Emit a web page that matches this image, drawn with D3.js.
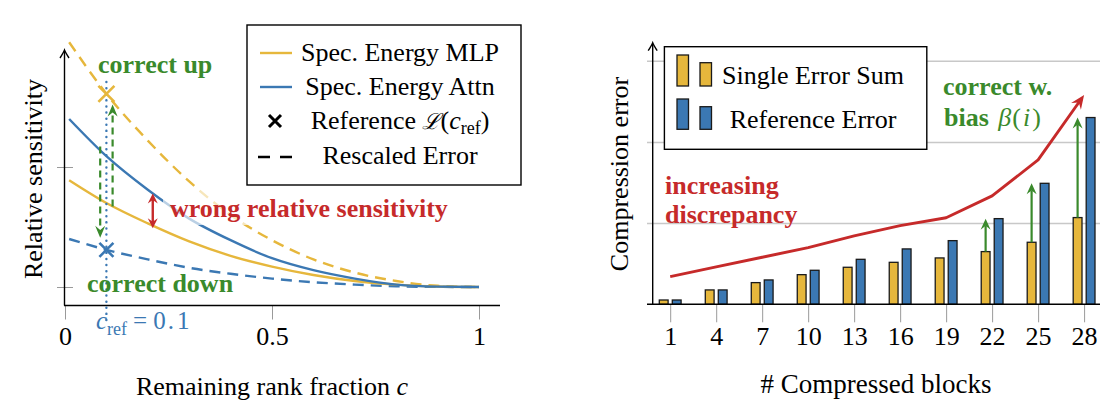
<!DOCTYPE html>
<html>
<head>
<meta charset="utf-8">
<script src="https://cdn.jsdelivr.net/npm/d3@7"></script>
<style>
  body { margin: 0; background: #fff; }
  svg { display: block; }
  text { font-family: "Liberation Serif", "Times New Roman", serif; }
</style>
</head>
<body>
<script>
"use strict";

// ---- left panel: relative sensitivity vs remaining rank fraction
const fractions = [0.01, 0.1, 0.2, 0.3, 0.4, 0.5, 0.6, 0.7, 0.8, 0.9, 1.0];
const mlpEnergy = [0.89, 0.70, 0.53, 0.38, 0.26, 0.17, 0.10, 0.05, 0.02, 0.004, 0];
const attnEnergy = [1.40, 1.09, 0.81, 0.57, 0.39, 0.24, 0.14, 0.07, 0.02, 0.003, 0];
const mlpRescaled = [2.04, 1.61, 1.22, 0.88, 0.60, 0.39, 0.23, 0.12, 0.05, 0.01, 0];
const attnRescaled = [0.40, 0.31, 0.23, 0.16, 0.11, 0.07, 0.04, 0.02, 0.006, 0.001, 0];
const cRef = 0.1;
const leftXTicks = [0, 0.5, 1];
const leftXTickLabels = ["0", "0.5", "1"];
const leftYTicks = [0, 1];

// ---- right panel: compression error vs number of compressed blocks
const blocks = [1, 4, 7, 10, 13, 16, 19, 22, 25, 28];
const singleErrorSum = [0.053, 0.177, 0.267, 0.365, 0.456, 0.517, 0.571, 0.649, 0.764, 1.068];
const referenceError = [0.053, 0.177, 0.30, 0.419, 0.554, 0.682, 0.784, 1.055, 1.49, 2.30];
const discrepancy = [0.341, 0.46, 0.579, 0.698, 0.842, 0.969, 1.066, 1.335, 1.778, 2.578];
const biasBlocks = [22, 25, 28];
const rightGrid = [1, 2, 3];

const colors = {
    yellow: "#e6b73c",
    blue: "#3b78b3",
    green: "#3a8a2c",
    red: "#c62a2a",
    grid: "#c8c8c8",
    tick: "#9a9a9a"
};

const svg = d3.select("body").append("svg")
    .attr("width", 1120)
    .attr("height", 410);

// filled "stealth" arrow head, tip at (x,y)
function arrowHead(g, x, y, angleDeg, color, len, wid) {
    g.append("path")
        .attr("d", `M0,0 L${-len},${-wid / 2} L${-len * 0.65},0 L${-len},${wid / 2} Z`)
        .attr("transform", `translate(${x},${y}) rotate(${angleDeg})`)
        .attr("fill", color);
}

// thin open arrow for the axes
function axisArrow(g, x, y) {
    g.append("path")
        .attr("d", "M-8,-4.5 Q-2.5,-1 0,0 Q-2.5,1 -8,4.5")
        .attr("transform", `translate(${x},${y}) rotate(-90)`)
        .attr("fill", "none")
        .attr("stroke", "#000")
        .attr("stroke-width", 1.4);
}

function drawLeft() {
    const g = svg.append("g");
    const x = d3.scaleLinear().domain([0, 1]).range([65, 479]);
    const y = d3.scaleLinear().domain([0, 1]).range([287, 167]);
    const axisY = 305.5;

    // x ticks
    const xAxis = d3.axisBottom(x)
        .tickValues(leftXTicks)
        .tickSize(14)
        .tickFormat((d, i) => leftXTickLabels[i]);
    const gx = g.append("g").attr("transform", `translate(0,${axisY})`).call(xAxis);
    gx.select(".domain").remove();
    gx.selectAll(".tick line").attr("stroke", colors.tick);
    gx.selectAll(".tick text")
        .attr("y", 39).attr("dy", null)
        .style("font-size", "26px")
        .attr("fill", "#000");

    // y ticks crossing the axis
    const yAxis = d3.axisLeft(y).tickValues(leftYTicks).tickSize(16).tickFormat("");
    const gy = g.append("g").attr("transform", "translate(73,0)").call(yAxis);
    gy.select(".domain").remove();
    gy.selectAll(".tick line").attr("stroke", colors.tick);

    // axis lines
    g.append("line").attr("x1", 64).attr("x2", 500).attr("y1", axisY).attr("y2", axisY)
        .attr("stroke", "#000").attr("stroke-width", 1.4);
    g.append("line").attr("x1", 64.5).attr("x2", 64.5).attr("y1", axisY).attr("y2", 51)
        .attr("stroke", "#000").attr("stroke-width", 1.4);
    axisArrow(g, 64.5, 50);

    // curves
    const line = d3.line()
        .x((d, i) => x(fractions[i]))
        .y(d => y(d))
        .curve(d3.curveMonotoneX);
    const curves = [
        { values: mlpRescaled, color: colors.yellow, dash: "11,7" },
        { values: attnRescaled, color: colors.blue, dash: "11,7" },
        { values: mlpEnergy, color: colors.yellow, dash: null },
        { values: attnEnergy, color: colors.blue, dash: null }
    ];
    g.selectAll(".curve")
        .data(curves)
        .enter()
        .append("path")
        .attr("class", "curve")
        .attr("d", d => line(d.values))
        .attr("fill", "none")
        .attr("stroke", d => d.color)
        .attr("stroke-width", 2.4)
        .attr("stroke-dasharray", d => d.dash);

    // c_ref dotted guide
    g.append("line")
        .attr("x1", x(cRef)).attr("x2", x(cRef))
        .attr("y1", 82).attr("y2", 320)
        .attr("stroke", colors.blue)
        .attr("stroke-width", 2.4)
        .attr("stroke-linecap", "round")
        .attr("stroke-dasharray", "0.1,6");

    // reference markers
    const refIdx = fractions.indexOf(cRef);
    [{ v: mlpRescaled[refIdx], c: colors.yellow, s: 8 }, { v: attnRescaled[refIdx], c: colors.blue, s: 7 }]
        .forEach(m => {
            const cx = x(cRef), cy = y(m.v);
            g.append("path")
                .attr("d", `M${cx - m.s},${cy - m.s}L${cx + m.s},${cy + m.s}M${cx - m.s},${cy + m.s}L${cx + m.s},${cy - m.s}`)
                .attr("stroke", m.c).attr("stroke-width", 2.6);
        });

    // green correction arrows
    const corrections = [
        { c: 0.085, from: 1.17, to: 0.41 },
        { c: 0.115, from: 0.67, to: 1.52 }
    ];
    corrections.forEach(a => {
        const ax = x(a.c), y0 = y(a.from), y1 = y(a.to);
        const dir = y1 > y0 ? 1 : -1;
        g.append("line")
            .attr("x1", ax).attr("x2", ax)
            .attr("y1", y0).attr("y2", y1 - dir * 8)
            .attr("stroke", colors.green).attr("stroke-width", 2.2)
            .attr("stroke-dasharray", "7,5");
        arrowHead(g, ax, y1, dir > 0 ? 90 : -90, colors.green, 12, 10);
    });

    // wrong relative sensitivity
    const wx = x(0.212);
    const wTop = y(0.78), wBot = y(0.49);
    g.append("line").attr("x1", wx).attr("x2", wx).attr("y1", wTop + 6).attr("y2", wBot - 6)
        .attr("stroke", colors.red).attr("stroke-width", 2.4);
    arrowHead(g, wx, wTop, -90, colors.red, 10, 10);
    arrowHead(g, wx, wBot, 90, colors.red, 10, 10);
    g.append("rect").attr("x", 163).attr("y", 187).attr("width", 292).attr("height", 38)
        .attr("fill", "#fff").attr("opacity", 0.65);
    g.append("text").attr("x", 170).attr("y", 217)
        .attr("fill", colors.red).style("font-size", "26px").style("font-weight", "bold")
        .text("wrong relative sensitivity");

    g.append("text").attr("x", 98).attr("y", 73)
        .attr("fill", colors.green).style("font-size", "26px").style("font-weight", "bold")
        .text("correct up");
    g.append("text").attr("x", 87).attr("y", 292)
        .attr("fill", colors.green).style("font-size", "26px").style("font-weight", "bold")
        .text("correct down");

    // c_ref = 0.1
    const cl = g.append("text").attr("x", 96).attr("y", 329).attr("fill", colors.blue)
        .style("font-size", "25px");
    cl.append("tspan").style("font-style", "italic").text("c");
    cl.append("tspan").attr("dy", 6).style("font-size", "18px").text("ref");
    cl.append("tspan").attr("dy", -6).attr("dx", 6).text("=");
    cl.append("tspan").attr("dx", 6).text("0");
    cl.append("tspan").attr("dx", 2).text(".");
    cl.append("tspan").attr("dx", 3).text("1");

    // axis labels
    g.append("text").attr("x", 272).attr("y", 395).attr("text-anchor", "middle")
        .style("font-size", "26px")
        .call(t => {
            t.append("tspan").text("Remaining rank fraction ");
            t.append("tspan").style("font-style", "italic").text("c");
        });
    g.append("text").attr("transform", "translate(41.5,179) rotate(-90)")
        .attr("text-anchor", "middle").style("font-size", "26px")
        .text("Relative sensitivity");

    // legend
    const lg = g.append("g");
    lg.append("rect").attr("x", 247).attr("y", 25).attr("width", 274).attr("height", 160)
        .attr("fill", "#fff").attr("stroke", "#000").attr("stroke-width", 1.4);
    const rows = [53, 87, 121, 157];
    lg.append("line").attr("x1", 260).attr("x2", 292).attr("y1", rows[0]).attr("y2", rows[0])
        .attr("stroke", colors.yellow).attr("stroke-width", 2.4);
    lg.append("line").attr("x1", 260).attr("x2", 292).attr("y1", rows[1]).attr("y2", rows[1])
        .attr("stroke", colors.blue).attr("stroke-width", 2.4);
    lg.append("path")
        .attr("d", `M269,${rows[2] - 6}L281,${rows[2] + 6}M269,${rows[2] + 6}L281,${rows[2] - 6}`)
        .attr("stroke", "#000").attr("stroke-width", 3);
    lg.append("line").attr("x1", 258).attr("x2", 292).attr("y1", rows[3]).attr("y2", rows[3])
        .attr("stroke", "#000").attr("stroke-width", 2.4).attr("stroke-dasharray", "12,10");
    const lt = (yy) => lg.append("text").attr("x", 400).attr("y", yy)
        .attr("text-anchor", "middle").style("font-size", "26px");
    lt(rows[0] + 8).text("Spec. Energy MLP");
    lt(rows[1] + 8).text("Spec. Energy Attn");
    lt(rows[2] + 8).call(t => {
        t.append("tspan").text("Reference ");
        t.append("tspan").style("font-family", "DejaVu Serif").style("font-style", "italic")
            .style("font-size", "22px").text("ℒ");
        t.append("tspan").text("(");
        t.append("tspan").style("font-style", "italic").text("c");
        t.append("tspan").attr("dy", 5).style("font-size", "18px").text("ref");
        t.append("tspan").attr("dy", -5).text(")");
    });
    lt(rows[3] + 7).text("Rescaled Error");
}

function drawRight() {
    const g = svg.append("g");
    const x = d3.scaleLinear().domain([1, 28]).range([670.2, 1084.1]);
    const y = d3.scaleLinear().domain([0, 1]).range([304.3, 223.1]);
    const barW = 8.8, off = 6.5;

    // grid lines
    const grid = d3.axisLeft(y).tickValues(rightGrid).tickSize(-453).tickFormat("");
    const gg = g.append("g").attr("transform", "translate(647,0)").call(grid);
    gg.select(".domain").remove();
    gg.selectAll(".tick line").attr("stroke", colors.grid).attr("stroke-width", 1.5);

    // x ticks
    const xAxis = d3.axisBottom(x).tickValues(blocks).tickSize(18).tickFormat(d3.format("d"));
    const gx = g.append("g").attr("transform", "translate(0,304.3)").call(xAxis);
    gx.select(".domain").remove();
    gx.selectAll(".tick line").attr("stroke", colors.tick);
    gx.selectAll(".tick text")
        .attr("y", 41).attr("dy", null)
        .style("font-size", "26px")
        .attr("fill", "#000");

    // bars
    const rows = blocks.map((b, i) => ({ b: b, s: singleErrorSum[i], r: referenceError[i] }));
    g.selectAll(".single").data(rows).enter().append("rect")
        .attr("class", "single")
        .attr("x", d => x(d.b) - off - barW / 2).attr("width", barW)
        .attr("y", d => y(d.s)).attr("height", d => y(0) - y(d.s))
        .attr("fill", colors.yellow).attr("stroke", "#1a1a1a").attr("stroke-width", 1.3);
    g.selectAll(".ref").data(rows).enter().append("rect")
        .attr("class", "ref")
        .attr("x", d => x(d.b) + off - barW / 2).attr("width", barW)
        .attr("y", d => y(d.r)).attr("height", d => y(0) - y(d.r))
        .attr("fill", colors.blue).attr("stroke", "#1a1a1a").attr("stroke-width", 1.3);

    // axes
    g.append("line").attr("x1", 647).attr("x2", 1100).attr("y1", 304.3).attr("y2", 304.3)
        .attr("stroke", "#000").attr("stroke-width", 1.4);
    g.append("line").attr("x1", 652.7).attr("x2", 652.7).attr("y1", 304.3).attr("y2", 44)
        .attr("stroke", "#000").attr("stroke-width", 1.4);
    axisArrow(g, 652.7, 42.7);

    // bias arrows
    rows.filter(d => biasBlocks.includes(d.b)).forEach(d => {
        const ax = x(d.b) - off;
        g.append("line").attr("x1", ax).attr("x2", ax)
            .attr("y1", y(d.s)).attr("y2", y(d.r) + 7)
            .attr("stroke", colors.green).attr("stroke-width", 2.2);
        arrowHead(g, ax, y(d.r), -90, colors.green, 11, 10);
    });

    // discrepancy trend
    const pts = blocks.map((b, i) => [x(b), y(discrepancy[i])]);
    const n = pts.length;
    const ang = Math.atan2(pts[n - 1][1] - pts[n - 2][1], pts[n - 1][0] - pts[n - 2][0]);
    const trimmed = pts.slice(0, n - 1).concat([[pts[n - 1][0] - 8 * Math.cos(ang), pts[n - 1][1] - 8 * Math.sin(ang)]]);
    g.append("path").attr("d", d3.line()(trimmed))
        .attr("fill", "none").attr("stroke", colors.red).attr("stroke-width", 2.9)
        .attr("stroke-linejoin", "round");
    arrowHead(g, pts[n - 1][0], pts[n - 1][1], ang * 180 / Math.PI, colors.red, 14, 12);

    // annotations
    g.append("text").attr("x", 665).attr("y", 194).attr("fill", colors.red)
        .style("font-size", "26px").style("font-weight", "bold").text("increasing");
    g.append("text").attr("x", 665).attr("y", 223).attr("fill", colors.red)
        .style("font-size", "26px").style("font-weight", "bold").text("discrepancy");
    g.append("text").attr("x", 943).attr("y", 95).attr("fill", colors.green)
        .style("font-size", "26px").style("font-weight", "bold").text("correct w.");
    g.append("text").attr("x", 944).attr("y", 126).attr("fill", colors.green)
        .style("font-size", "26px")
        .call(t => {
            t.append("tspan").style("font-weight", "bold").text("bias ");
            t.append("tspan").attr("dx", 3).style("font-style", "italic").text("β");
            t.append("tspan").attr("dx", 1).text("(");
            t.append("tspan").attr("dx", 2).style("font-style", "italic").text("i");
            t.append("tspan").attr("dx", 2).text(")");
        });

    // axis labels
    g.append("text").attr("x", 876).attr("y", 393).attr("text-anchor", "middle")
        .style("font-size", "27px").text("# Compressed blocks");
    g.append("text").attr("transform", "translate(628,174) rotate(-90)")
        .attr("text-anchor", "middle").style("font-size", "26px")
        .text("Compression error");

    // legend
    const lg = g.append("g");
    lg.append("rect").attr("x", 664.4).attr("y", 46.7).attr("width", 262.4).attr("height", 102.6)
        .attr("fill", "#fff").attr("stroke", "#000").attr("stroke-width", 1.4);
    const sample = [
        { c: colors.yellow, top1: 55, top2: 62.7, bot: 86, label: "Single Error Sum", ty: 84 },
        { c: colors.blue, top1: 99, top2: 106.7, bot: 129.3, label: "Reference Error", ty: 128 }
    ];
    sample.forEach(s => {
        lg.append("rect").attr("x", 677).attr("y", s.top1).attr("width", 11.5).attr("height", s.bot - s.top1)
            .attr("fill", s.c).attr("stroke", "#1a1a1a").attr("stroke-width", 1.3);
        lg.append("rect").attr("x", 700).attr("y", s.top2).attr("width", 11.5).attr("height", s.bot - s.top2)
            .attr("fill", s.c).attr("stroke", "#1a1a1a").attr("stroke-width", 1.3);
        lg.append("text").attr("x", 813).attr("y", s.ty).attr("text-anchor", "middle")
            .style("font-size", "26px").text(s.label);
    });
}

drawLeft();
drawRight();
</script>
</body>
</html>
